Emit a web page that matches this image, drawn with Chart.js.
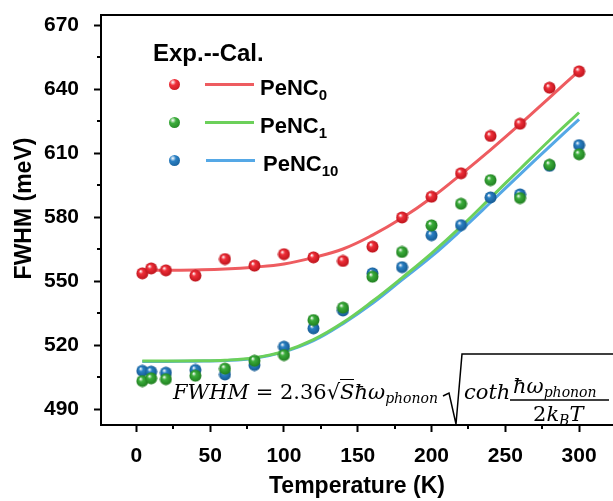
<!DOCTYPE html>
<html>
<head>
<meta charset="utf-8">
<script src="https://cdn.jsdelivr.net/npm/chart.js@4.4.0/dist/chart.umd.min.js"></script>
<style>
  body { margin: 0; background: #fff; }
  #wrap { position: relative; width: 613px; height: 501px; overflow: hidden; }
  .ov { position: absolute; white-space: nowrap; color: #000; line-height: 1; }
  .leg { font: bold 22px 'Liberation Sans', Arial, sans-serif; }
  .leg sub { font-size: 15px; vertical-align: -5px; line-height: 0; }
  .ball { position: absolute; width: 11px; height: 11px; border-radius: 50%; }
  .seg { position: absolute; height: 3px; }
  .math { font: 21px 'DejaVu Serif', serif; }
  .math i { font-style: italic; }
  .math sub { font-size: 14px; font-style: italic; vertical-align: -4px; line-height: 0; }
</style>
</head>
<body>
<div id="wrap">
  <canvas id="fwhmChart" width="613" height="501"></canvas>

  <div class="ov leg" style="left:153px;top:39px;font-size:24px;">Exp.--Cal.</div>

  <div class="ball" style="left:169px;top:79px;background:radial-gradient(circle at 35% 30%,#fff 0,#f0303a 30%,#b81018 100%);"></div>
  <div class="seg" style="left:205px;top:83px;width:49px;background:#ee5c60;"></div>
  <div class="ov leg" style="left:260px;top:75px;">PeNC<sub>0</sub></div>

  <div class="ball" style="left:169px;top:117px;background:radial-gradient(circle at 35% 30%,#fff 0,#3cae3c 30%,#1d7a1d 100%);"></div>
  <div class="seg" style="left:205px;top:121px;width:49px;background:#6cd05a;"></div>
  <div class="ov leg" style="left:260px;top:113px;">PeNC<sub>1</sub></div>

  <div class="ball" style="left:169px;top:155px;background:radial-gradient(circle at 35% 30%,#fff 0,#2a80c4 30%,#14578e 100%);"></div>
  <div class="seg" style="left:206px;top:159px;width:49px;background:#55a8e6;"></div>
  <div class="ov leg" style="left:263px;top:151px;">PeNC<sub>10</sub></div>

  <div class="ov math" style="left:173px;top:380px;"><i>FWHM</i> = 2.36√<span style="border-top:1.5px solid #000;"><i>S</i></span><i>ħω</i><sub>phonon</sub></div>
  <svg class="ov" style="left:0;top:0;" width="613" height="501">
    <polyline points="443,396 449,393 456,424 462,354 613,354" fill="none" stroke="#000" stroke-width="1.5"/>
    <line x1="510" y1="400" x2="609" y2="400" stroke="#000" stroke-width="1.5"/>
  </svg>
  <div class="ov math" style="left:464px;top:380px;"><i>coth</i></div>
  <div class="ov math" style="left:513px;top:374px;"><i>ħω</i><sub>phonon</sub></div>
  <div class="ov math" style="left:533px;top:402px;">2<i>k</i><sub>B</sub><i>T</i></div>
</div>

<script>
// experimental points
const temps = [4, 10, 20, 40, 60, 80, 100, 120, 140, 160, 180, 200, 220, 240, 260, 280, 300];
const expPeNC0 = [553.6, 555.9, 555.0, 552.5, 560.3, 557.2, 562.6, 561.1, 559.4, 566.1, 579.8, 589.5, 600.5, 618.0, 623.7, 640.6, 648.3];
const expPeNC1 = [503.1, 504.4, 504.0, 505.6, 508.9, 512.6, 515.3, 531.7, 537.5, 552.0, 563.6, 576.1, 586.2, 597.3, 588.9, 604.5, 609.4];
const expPeNC10 = [507.9, 507.5, 507.0, 508.3, 506.2, 510.6, 519.2, 527.8, 536.2, 553.6, 556.5, 571.5, 576.2, 589.2, 590.6, 604.0, 613.7];

// calculated curves
const fitTemps = [4, 20, 40, 60, 80, 100, 120, 140, 160, 180, 200, 220, 240, 260, 280, 300];
const calPeNC0 = [555.0, 555.0, 555.2, 555.6, 556.5, 558.0, 561.0, 565.0, 571.5, 579.5, 589.0, 600.0, 611.5, 623.5, 636.0, 648.5];
const calPeNC1 = [512.5, 512.5, 512.6, 512.9, 514.0, 517.0, 522.5, 530.5, 540.5, 551.5, 563.0, 575.5, 589.0, 602.5, 616.0, 629.0];
const calPeNC10 = [512.3, 512.3, 512.4, 512.7, 513.8, 516.8, 522.0, 530.0, 539.5, 550.5, 561.5, 573.8, 586.8, 600.0, 613.0, 625.8];

const xTicks = [0, 50, 100, 150, 200, 250, 300];
const yTicks = [490, 520, 550, 580, 610, 640, 670];
const xMinor = [25, 75, 125, 175, 225, 275];
const yMinor = [505, 535, 565, 595, 625, 655];

const pair = (xs, ys) => xs.map((x, i) => ({ x, y: ys[i] }));

function ball(color, dark) {
    const c = document.createElement('canvas');
    c.width = 13;
    c.height = 13;
    const g = c.getContext('2d');
    const grad = g.createRadialGradient(4.6, 4.2, 0.3, 6.5, 6.5, 6.5);
    grad.addColorStop(0, '#ffffff');
    grad.addColorStop(0.3, color);
    grad.addColorStop(1, dark);
    g.fillStyle = grad;
    g.beginPath();
    g.arc(6.5, 6.5, 6, 0, Math.PI * 2);
    g.fill();
    return c;
}

const frameAndMinor = {
    id: 'frameAndMinor',
    afterDraw(chart) {
        const { ctx, chartArea } = chart;
        const xs = chart.scales.x;
        const ys = chart.scales.y;
        ctx.save();
        ctx.strokeStyle = '#000';
        ctx.lineWidth = 2;
        ctx.beginPath();
        ctx.moveTo(chartArea.left - 1, chartArea.top);
        ctx.lineTo(chartArea.right + 2, chartArea.top);
        xMinor.forEach((v) => {
            const px = Math.round(xs.getPixelForValue(v));
            ctx.moveTo(px, chartArea.bottom);
            ctx.lineTo(px, chartArea.bottom + 4);
        });
        yMinor.forEach((v) => {
            const py = Math.round(ys.getPixelForValue(v));
            ctx.moveTo(chartArea.left, py);
            ctx.lineTo(chartArea.left - 4, py);
        });
        ctx.stroke();
        ctx.restore();
    },
};

const tickFont = { family: "'Liberation Sans', Arial, sans-serif", size: 21, weight: 'bold' };
const titleFont = { family: "'Liberation Sans', Arial, sans-serif", size: 23, weight: 'bold' };

const curve = (label, xs, ys, color) => ({
    type: 'line',
    label,
    data: pair(xs, ys),
    borderColor: color,
    borderWidth: 3,
    pointRadius: 0,
    tension: 0.4,
    fill: false,
    order: 2,
});

const dots = (label, ys, color, dark) => ({
    type: 'scatter',
    label,
    data: pair(temps, ys),
    pointStyle: ball(color, dark),
    pointRadius: 6,
    order: 1,
});

new Chart(document.getElementById('fwhmChart'), {
    type: 'scatter',
    data: {
        datasets: [
            curve('Cal. PeNC0', fitTemps, calPeNC0, '#ee5c60'),
            curve('Cal. PeNC1', fitTemps, calPeNC1, '#6cd05a'),
            curve('Cal. PeNC10', fitTemps, calPeNC10, '#55a8e6'),
            dots('Exp. PeNC0', expPeNC0, '#f0303a', '#b81018'),
            dots('Exp. PeNC1', expPeNC1, '#3cae3c', '#1d7a1d'),
            dots('Exp. PeNC10', expPeNC10, '#2a80c4', '#14578e'),
        ],
    },
    options: {
        responsive: false,
        animation: false,
        layout: { autoPadding: false, padding: { top: 15, right: 0, left: 0, bottom: 0 } },
        plugins: { legend: { display: false }, tooltip: { enabled: false } },
        scales: {
            x: {
                type: 'linear',
                min: -24,
                max: 323,
                afterBuildTicks: (s) => { s.ticks = xTicks.map((v) => ({ value: v })); },
                afterFit: (s) => { s.height = 76; s.paddingLeft = 0; s.paddingRight = 0; },
                ticks: { font: tickFont, color: '#000', padding: 12, maxRotation: 0, autoSkip: false },
                grid: { drawOnChartArea: false, tickLength: 7, tickWidth: 2, tickColor: '#000' },
                border: { color: '#000', width: 2 },
                title: { display: true, text: 'Temperature (K)', font: titleFont, color: '#000', padding: { top: 0, bottom: 1 } },
            },
            y: {
                min: 482.5,
                max: 674.7,
                afterBuildTicks: (s) => { s.ticks = yTicks.map((v) => ({ value: v })); },
                afterFit: (s) => { s.width = 101; s.paddingTop = 0; s.paddingBottom = 0; },
                ticks: { font: tickFont, color: '#000', padding: 15 },
                grid: { drawOnChartArea: false, tickLength: 7, tickWidth: 2, tickColor: '#000' },
                border: { color: '#000', width: 2 },
                title: { display: true, text: '\u2002\u2002FWHM (meV)', font: titleFont, color: '#000', padding: { top: 11, bottom: 0 } },
            },
        },
    },
    plugins: [frameAndMinor],
});
</script>
</body>
</html>
